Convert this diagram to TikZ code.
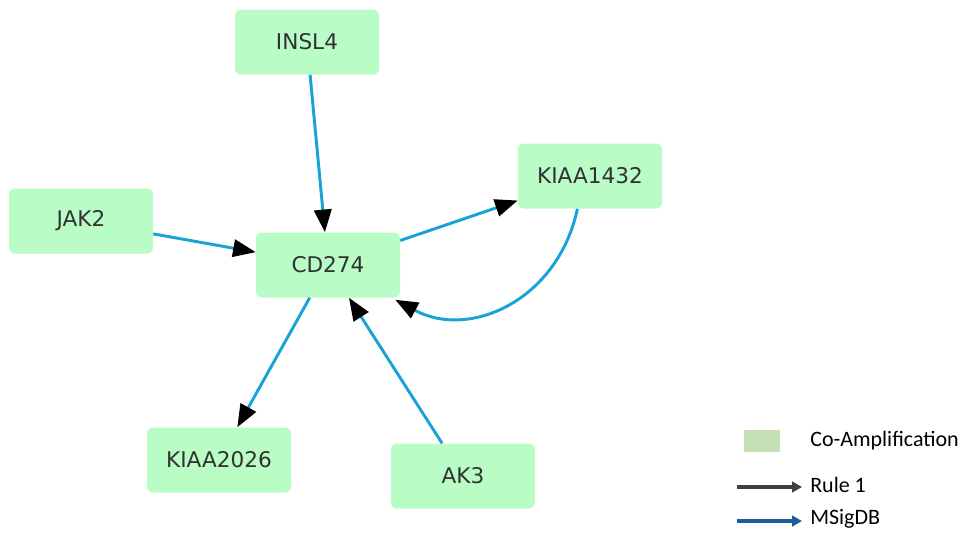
\documentclass[tikz,border=0pt]{standalone}
\usepackage{fontspec}
\setmainfont{DejaVu Sans}
\newfontfamily\legendfont{Carlito}
\usetikzlibrary{arrows.meta}
\definecolor{genefill}{RGB}{185,252,197}
\definecolor{genetext}{RGB}{50,50,50}
\definecolor{linkblue}{RGB}{24,162,214}
\definecolor{coampfill}{RGB}{197,224,180}
\definecolor{ruleone}{RGB}{64,64,64}
\definecolor{msigdb}{RGB}{31,92,156}
\tikzset{
  gene/.style={rectangle, rounded corners=4.5pt, fill=genefill, draw=none,
    minimum width=108pt, minimum height=48.75pt, inner sep=0pt,
    text=genetext, font=\fontsize{16.2}{19}\selectfont},
  link/.style={draw=linkblue, line width=2.2pt,
    -{Triangle[length=17pt,width=13pt,black]}},
  legtext/.style={anchor=west, inner sep=0pt, text=black,
    font=\legendfont\fontsize{16.5}{19}\selectfont},
  legarrow/.style={line width=2.6pt, -{Triangle[length=7.5pt,width=8pt]}}
}
\begin{document}
\begin{tikzpicture}[x=0.75pt, y=-0.75pt]
\useasboundingbox (0,0) rectangle (964,533);

% gene nodes
\node[gene] (insl4)    at (307,42)  {INSL4};
\node[gene] (kiaa1432) at (590,176) {KIAA1432};
\node[gene] (jak2)     at (81,221)  {JAK2};
\node[gene] (cd274)    at (328,265) {CD274};
\node[gene] (kiaa2026) at (219,460) {KIAA2026};
\node[gene] (ak3)      at (463,476) {AK3};

% interactions
\draw[link] (insl4) -- (cd274);
\draw[link] (jak2) -- (cd274);
\draw[link] (cd274) -- (kiaa1432);
\draw[link] (cd274) -- (kiaa2026);
\draw[link] (ak3) -- (cd274);
\draw[link] (kiaa1432.-111) .. controls (558,300) and (470,340) .. ([shift={(-5,2)}]cd274.south east);

% legend
\node[rectangle, fill=coampfill, minimum width=27pt, minimum height=16.5pt, inner sep=0pt] (coamp) at (762,441) {};
\node[legtext] (coamptext) at (810,441) {Co-Amplification};
\coordinate (r1start) at (737,487);
\node[legtext] (r1text) at (810,485) {Rule 1};
\coordinate (r1end) at (802,487);
\draw[legarrow, draw=ruleone, fill=ruleone] (r1start) -- (r1end);
\coordinate (msstart) at (737,521);
\node[legtext] (mstext) at (810,519) {MSigDB};
\coordinate (msend) at (802,521);
\draw[legarrow, draw=msigdb, fill=msigdb] (msstart) -- (msend);
\end{tikzpicture}
\end{document}
